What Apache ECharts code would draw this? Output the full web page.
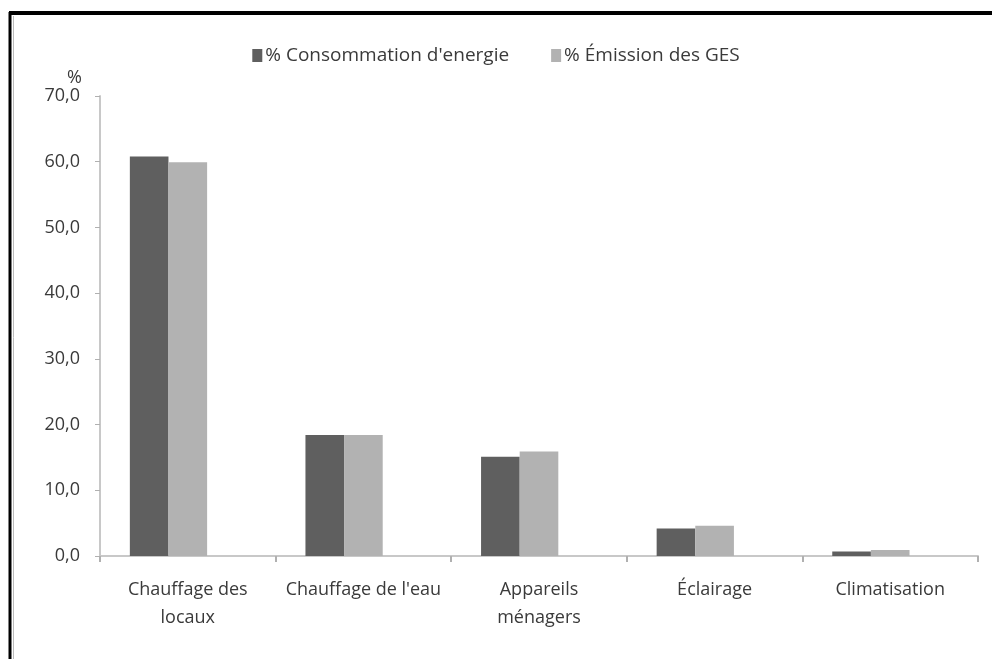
<!DOCTYPE html>
<html>
<head>
<meta charset="utf-8">
<script src="https://cdn.jsdelivr.net/npm/echarts@6/dist/echarts.min.js"></script>
<style>
  html, body { margin: 0; padding: 0; background: #fff; }
  #chart { width: 992px; height: 659px; }
</style>
</head>
<body>
<div id="chart"></div>
<script>
// catégories et valeurs
const categories = ['Chauffage des\nlocaux', 'Chauffage de l\'eau', 'Appareils\nménagers', 'Éclairage', 'Climatisation'];
const consommation = [60.8, 18.4, 15.1, 4.2, 0.7];
const emission = [59.9, 18.4, 15.9, 4.6, 0.9];
const yTicks = [0, 10, 20, 30, 40, 50, 60, 70];

const font = "'Liberation Sans Narrow', 'Open Sans', sans-serif";
const txt = '#3a3a3a';

const chart = echarts.init(document.getElementById('chart'));

const option = {
  animation: false,
  backgroundColor: '#fff',
  textStyle: { fontFamily: font },
  graphic: [
    { type: 'line', shape: { x1: 9, y1: 13, x2: 992, y2: 13 }, style: { stroke: '#000', lineWidth: 4 } },
    { type: 'line', shape: { x1: 10, y1: 12, x2: 10, y2: 659 }, style: { stroke: '#000', lineWidth: 3 } },
    { type: 'line', shape: { x1: 13.5, y1: 16, x2: 13.5, y2: 659 }, style: { stroke: '#bbb', lineWidth: 1 } }
  ],
  legend: {
    data: ['% Consommation d\'energie', '% Émission des GES'],
    top: 41,
    left: 'center',
    itemWidth: 10,
    itemHeight: 13,
    itemGap: 42,
    icon: 'rect',
    textStyle: { fontFamily: font, fontSize: 19, color: txt, padding: [0, 0, 0, -2] }
  },
  grid: { left: 100, right: 14, top: 96, bottom: 103 },
  xAxis: {
    type: 'category',
    data: categories,
    axisLine: { lineStyle: { color: '#c8c8c8', width: 2 } },
    axisTick: { show: true, length: 6, interval: 0, lineStyle: { color: '#b0b0b0', width: 2 } },
    axisLabel: { interval: 0, margin: 20, fontSize: 18, lineHeight: 28, color: txt, fontFamily: font }
  },
  yAxis: {
    type: 'value',
    min: yTicks[0],
    max: yTicks[yTicks.length - 1],
    interval: 10,
    name: '%',
    nameLocation: 'end',
    nameGap: 8,
    nameTextStyle: { fontSize: 18, color: txt, fontFamily: font, align: 'right', padding: [0, 18, 0, 0] },
    axisLine: { show: true, lineStyle: { color: '#c8c8c8', width: 2 } },
    axisTick: { show: true, length: 5, lineStyle: { color: '#b0b0b0', width: 1 } },
    splitLine: { show: false },
    axisLabel: {
      margin: 20,
      fontSize: 18,
      color: txt,
      fontFamily: font,
      formatter: v => v.toFixed(1).replace('.', ',')
    }
  },
  series: [
    {
      name: '% Consommation d\'energie',
      type: 'bar',
      data: consommation,
      barGap: '0%',
      barCategoryGap: '34%',
      itemStyle: { color: '#5f5f5f' }
    },
    {
      name: '% Émission des GES',
      type: 'bar',
      data: emission,
      itemStyle: { color: '#b2b2b2' }
    },
    {
      // série vide qui réserve la troisième place dans chaque groupe
      name: '',
      type: 'bar',
      data: [],
      itemStyle: { color: '#ffffff' }
    }
  ]
};

option && chart.setOption(option);
</script>
</body>
</html>
